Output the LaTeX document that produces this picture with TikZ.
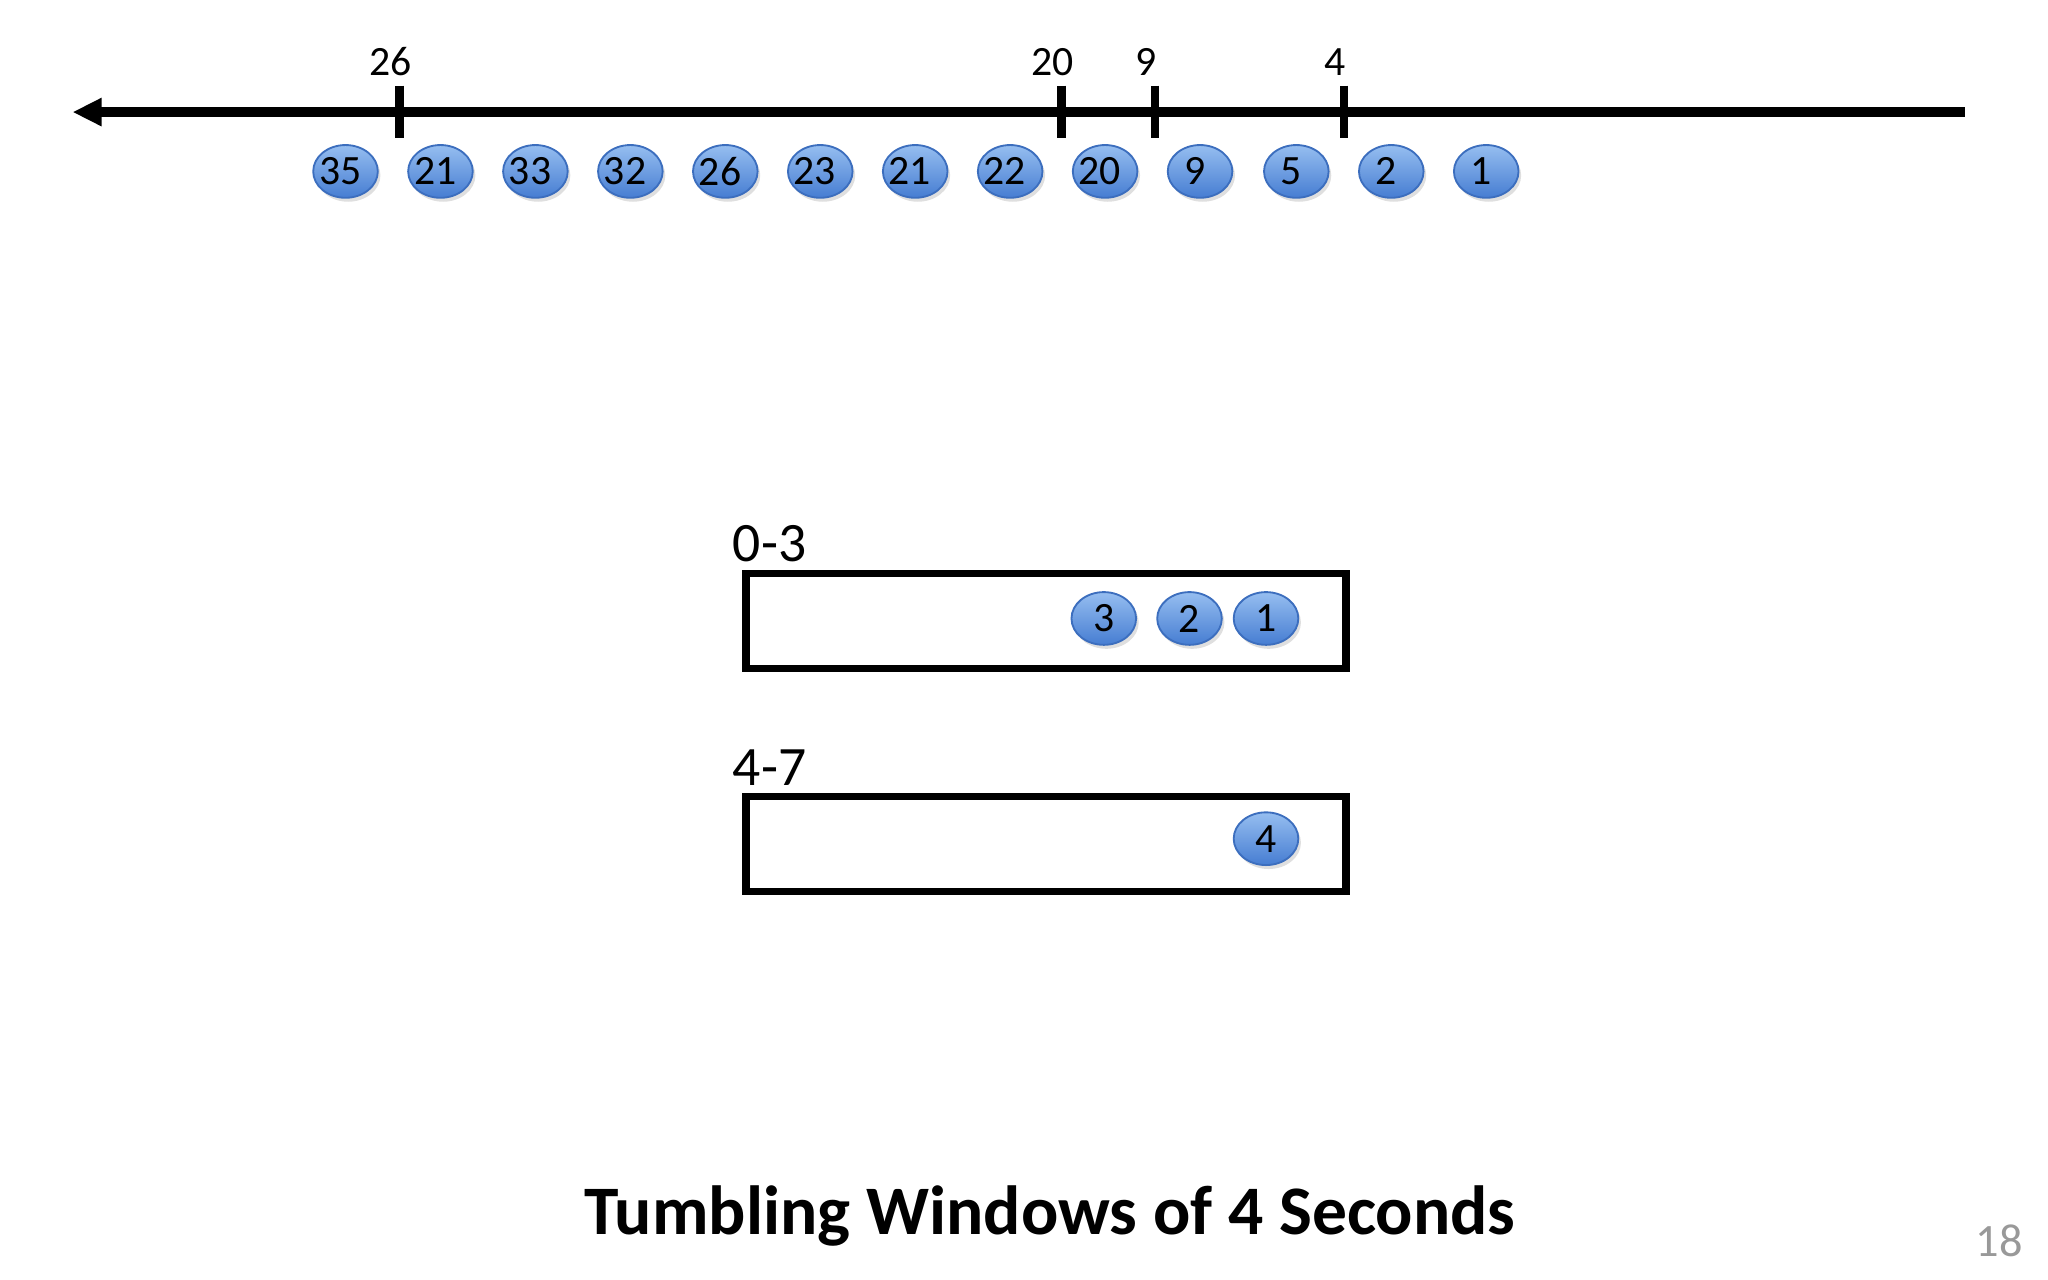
\documentclass[tikz,border=0pt]{standalone}
\usepackage{fontspec}
\setmainfont{Carlito}
\usetikzlibrary{arrows.meta,shadows,shapes.geometric}
\definecolor{ballhi}{RGB}{150,190,240}
\definecolor{balllo}{RGB}{70,125,210}
\definecolor{ballrim}{RGB}{60,110,190}
\tikzset{
    event/.style={ellipse,draw=ballrim,top color=ballhi,bottom color=balllo,
        minimum width=0.49cm,minimum height=0.40cm,inner sep=0pt,
        font=\fontsize{9}{9}\selectfont,drop shadow={opacity=0.25,shadow xshift=0.02cm,shadow yshift=-0.03cm}},
    window/.style={draw,line width=1.6pt},
    tick/.style={line width=1.8pt},
    ticklabel/.style={font=\fontsize{9}{9}\selectfont}
}
\begin{document}
\begin{tikzpicture}
    \useasboundingbox (0,0) rectangle (15.53,9.70);
    %% time axis
    \coordinate (axisR) at (14.90,8.85);
    \coordinate (axisL) at (0.55,8.85);
    \draw[line width=2pt,-{Triangle[length=0.22cm,width=0.2cm]}] (axisR) -- (axisL);
    \foreach \x/\t/\n in {3.03/26/a,8.05/20/b,8.76/9/c,10.19/4/d}{
        \coordinate (tk\n) at (\x,8.85);
        \draw[tick] ([yshift=0.2cm]tk\n) -- ([yshift=-0.2cm]tk\n);
        \node[ticklabel] (tl\n) at ([xshift=-0.07cm,yshift=0.38cm]tk\n) {\t};
    }
    %% incoming events
    \foreach \x/\t [count=\i] in {2.62/35,3.34/21,4.06/33,4.78/32,5.50/26,6.22/23,6.94/21,7.66/22,8.38/20,9.10/9,9.83/5,10.55/2,11.27/1}
        \node[event] (ev\i) at (\x,8.40) {\hspace*{-0.08cm}\t};

    %% windows
    \node[window,minimum width=4.55cm,minimum height=0.72cm,anchor=north west] (win1) at (5.63,5.38) {};
    \node[font=\fontsize{12}{12}\selectfont,anchor=south west,inner sep=0pt] (lab1) at ([xshift=-0.08cm,yshift=0.05cm]win1.north west) {0-3};
    \node[event] (w1a) at (8.37,5.01) {3};
    \node[event] (w1b) at (9.02,5.01) {2};
    \node[event] (w1c) at (9.60,5.01) {1};

    \node[window,minimum width=4.55cm,minimum height=0.72cm,anchor=north west] (win2) at (5.63,3.69) {};
    \node[font=\fontsize{12}{12}\selectfont,anchor=south west,inner sep=0pt] (lab2) at ([xshift=-0.08cm,yshift=0.05cm]win2.north west) {4-7};
    \node[event] (w2a) at (9.60,3.34) {4};

    %% caption
    \node[font=\bfseries\fontsize{15}{15}\selectfont] (title) at (7.96,0.48) {Tumbling Windows of 4 Seconds};
    \node[text=black!40,font=\fontsize{10}{10}\selectfont] (page) at (15.16,0.29) {18};
\end{tikzpicture}
\end{document}
